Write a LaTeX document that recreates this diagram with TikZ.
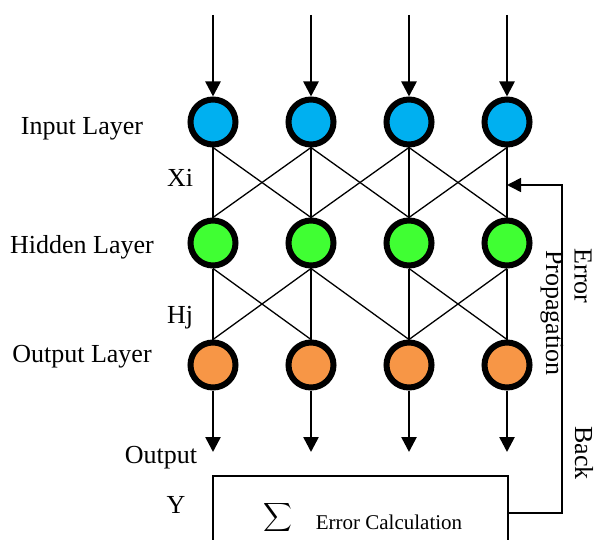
\documentclass[tikz,border=0pt]{standalone}
\usepackage{fontspec}
\setmainfont{Liberation Serif}
\usepackage{tikz}
\usetikzlibrary{
    arrows.meta,
    positioning
}
\definecolor{netblue}{RGB}{0,176,240}
\definecolor{netgreen}{RGB}{64,255,51}
\definecolor{netorange}{RGB}{247,150,70}

\begin{document}
\begin{tikzpicture}[
    x=0.5pt, y=-0.5pt,
    neuron/.style={
        circle,
        draw=black,
        line width=3pt,
        minimum size=22.5pt,
        inner sep=0pt
    },
    inputnode/.style={neuron, fill=netblue},
    hiddennode/.style={neuron, fill=netgreen},
    outputnode/.style={neuron, fill=netorange},
    link/.style={
        line width=0.65pt,
        draw=black
    },
    flowarrow/.style={
        -{Triangle[length=7.5pt,width=7.5pt]},
        line width=1.3pt,
        draw=black
    },
    fbarrow/.style={
        -{Triangle[length=7pt,width=7pt]},
        line width=0.8pt,
        draw=black
    },
    calcbox/.style={
        draw=black,
        line width=0.8pt,
        fill=white,
        minimum width=147.5pt,
        minimum height=40pt,
        inner sep=0pt
    },
    layertext/.style={
        font=\fontsize{13}{15}\selectfont,
        inner sep=0pt
    }
]

\clip (0,0) rectangle (597,539);

% neurons
\node[inputnode] (in1) at (213,122) {};
\node[inputnode, right=23.5pt of in1] (in2) {};
\node[inputnode, right=23.5pt of in2] (in3) {};
\node[inputnode, right=23.5pt of in3] (in4) {};

\node[hiddennode, below=35pt of in1] (hid1) {};
\node[hiddennode, right=23.5pt of hid1] (hid2) {};
\node[hiddennode, right=23.5pt of hid2] (hid3) {};
\node[hiddennode, right=23.5pt of hid3] (hid4) {};

\node[outputnode, below=35.5pt of hid1] (out1) {};
\node[outputnode, right=23.5pt of out1] (out2) {};
\node[outputnode, right=23.5pt of out2] (out3) {};
\node[outputnode, right=23.5pt of out3] (out4) {};

% free ends of the arrows
\coordinate (top1) at (in1 |- 0,15);
\coordinate (top2) at (in2 |- 0,15);
\coordinate (top3) at (in3 |- 0,15);
\coordinate (top4) at (in4 |- 0,15);
\coordinate (end1) at (out1 |- 0,452);
\coordinate (end2) at (out2 |- 0,452);
\coordinate (end3) at (out3 |- 0,452);
\coordinate (end4) at (out4 |- 0,452);

% labels
\node[layertext] (inlabel) at (82,129) {Input Layer};
\node[layertext] (hidlabel) at (82,247) {Hidden Layer};
\node[layertext] (outlabel) at (82,357) {Output Layer};
\node[layertext] (xi) at (180,178) {Xi};
\node[layertext] (hj) at (180,318) {Hj};
\node[layertext] (output) at (161,458) {Output};
\node[layertext] (ylabel) at (176,505) {Y};

% error block
\node[calcbox] (calc) at (360.5,516) {};
\node[inner sep=0pt] (sigma) at (278,517)
    {\fontsize{16}{18}\selectfont$\displaystyle\sum$};
\node[inner sep=0pt, font=\fontsize{10.5}{12}\selectfont] (errtext) at (389,522)
    {Error Calculation};

\node[layertext, rotate=-90] (errword) at (583,276) {Error};
\node[layertext, rotate=-90] (propword) at (552,313) {Propagation};
\node[layertext, rotate=-90] (backword) at (584,453) {Back};

% input to hidden
\draw[link] (in1.south) -- (hid1.north);
\draw[link] (in2.south) -- (hid2.north);
\draw[link] (in3.south) -- (hid3.north);
\draw[link] (in4.south) -- (hid4.north);
\draw[link] (in1.south) -- (hid2.north);
\draw[link] (in2.south) -- (hid1.north);
\draw[link] (in2.south) -- (hid3.north);
\draw[link] (in3.south) -- (hid2.north);
\draw[link] (in3.south) -- (hid4.north);
\draw[link] (in4.south) -- (hid3.north);

% hidden to output
\draw[link] (hid1.south) -- (out1.north);
\draw[link] (hid2.south) -- (out2.north);
\draw[link] (hid3.south) -- (out3.north);
\draw[link] (hid4.south) -- (out4.north);
\draw[link] (hid1.south) -- (out2.north);
\draw[link] (hid2.south) -- (out1.north);
\draw[link] (hid2.south) -- (out3.north);
\draw[link] (hid3.south) -- (out4.north);
\draw[link] (hid4.south) -- (out3.north);

% arrows in and out
\draw[flowarrow] (top1) -- (in1);
\draw[flowarrow] (top2) -- (in2);
\draw[flowarrow] (top3) -- (in3);
\draw[flowarrow] (top4) -- (in4);
\draw[flowarrow] (out1) -- (end1);
\draw[flowarrow] (out2) -- (end2);
\draw[flowarrow] (out3) -- (end3);
\draw[flowarrow] (out4) -- (end4);

% feedback
\coordinate (fbstart) at (calc.east |- 0,513);
\coordinate (fbright) at (562,185);
\coordinate (fbend) at (in4 |- 0,185);
\draw[fbarrow] (fbstart) -| (fbright) -- (fbend);

\end{tikzpicture}
\end{document}
